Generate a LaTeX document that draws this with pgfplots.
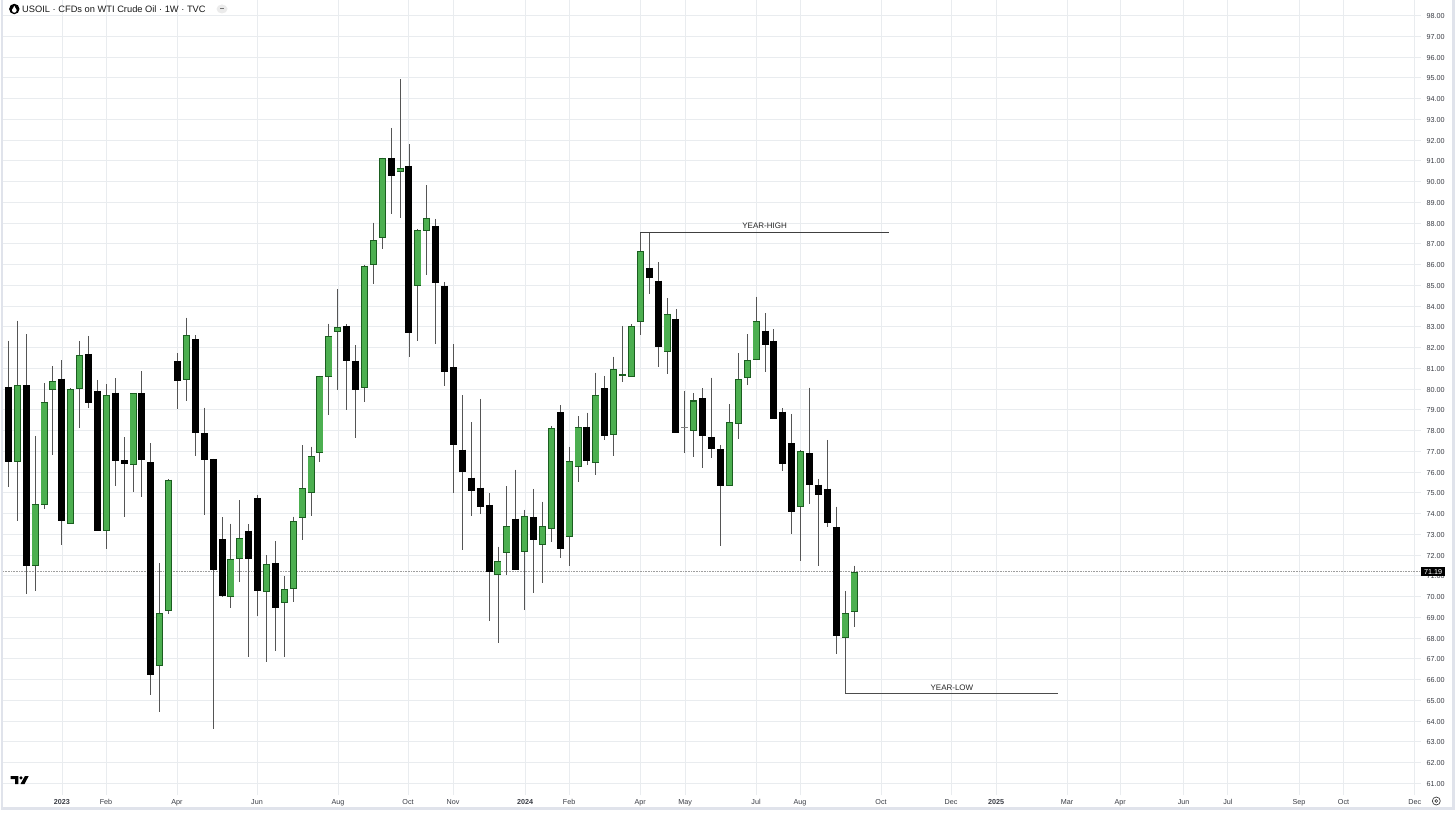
\documentclass[border=0pt]{standalone}
\usepackage{pgfplots}
\pgfplotsset{compat=1.18}
\usepackage{pgfplotstable}
\usepackage{fontspec}
\setmainfont{Liberation Sans}
\definecolor{gridc}{HTML}{E9ECEF}
\definecolor{bullf}{HTML}{4CAF50}
\definecolor{bulle}{HTML}{1B5E20}
\definecolor{wickc}{HTML}{555555}
\definecolor{framec}{HTML}{E0E3EB}
\definecolor{labc}{HTML}{3A3D45}
% i high low
\pgfplotstableread{
i high low
0 82.33 75.30
1 83.30 73.63
2 82.65 70.11
3 77.74 70.27
4 80.28 74.20
5 81.11 76.82
6 81.40 72.50
7 80.03 73.53
8 82.32 78.14
9 82.56 79.07
10 80.44 73.14
11 80.24 72.28
12 80.52 75.35
13 77.67 73.82
14 79.80 75.04
15 80.86 74.82
16 77.39 65.27
17 71.60 64.42
18 75.65 69.18
19 81.72 79.04
20 83.44 79.41
21 82.60 76.78
22 79.10 73.92
23 76.65 63.62
24 73.82 70.00
25 73.51 69.45
26 74.65 70.72
27 73.48 67.10
28 74.90 69.08
29 71.99 66.86
30 72.66 67.39
31 70.99 67.09
32 73.85 69.76
33 77.28 72.74
34 77.22 73.90
35 80.65 76.49
36 83.15 78.74
37 84.82 79.97
38 83.13 78.99
39 82.11 77.65
40 86.00 79.38
41 88.02 85.06
42 91.15 86.76
43 92.59 88.42
44 94.93 88.24
45 91.80 81.56
46 87.72 82.33
47 89.81 85.51
48 88.20 82.15
49 85.16 80.16
50 82.17 74.97
51 79.71 72.24
52 78.39 73.87
53 79.53 73.96
54 74.99 68.83
55 72.41 67.78
56 75.32 71.02
57 76.12 71.27
58 74.18 69.33
59 75.19 70.18
60 74.58 70.65
61 78.20 72.61
62 79.22 71.84
63 77.22 71.45
64 78.70 75.54
65 78.86 76.33
66 80.79 75.88
67 80.63 77.55
68 81.56 76.79
69 83.04 80.33
70 83.12 80.60
71 87.55 82.62
72 87.55 84.57
73 86.11 81.08
74 84.37 80.73
75 83.84 77.90
76 79.91 76.90
77 79.80 76.71
78 80.04 76.18
79 80.55 76.66
80 77.31 72.44
81 79.27 75.33
82 81.72 77.61
83 82.64 80.18
84 84.45 81.43
85 83.65 80.82
86 82.88 78.56
87 79.07 76.05
88 78.80 73.00
89 77.05 71.70
90 80.07 74.46
91 75.67 71.49
92 77.55 73.37
93 74.33 67.22
94 70.27 65.31
95 71.49 68.55
}\wicks
\pgfplotstableread{
i top bot
0 80.12 76.50
2 80.18 71.47
6 80.50 73.63
9 81.69 79.35
10 79.91 73.16
12 79.83 76.53
13 76.57 76.41
15 79.80 76.60
16 76.47 66.22
19 81.35 80.41
21 82.40 77.88
22 77.87 76.60
23 76.63 71.28
24 72.76 70.01
27 73.18 71.83
28 74.75 70.27
30 71.60 69.47
38 83.04 81.34
39 81.37 79.95
43 91.12 90.27
45 90.75 82.72
48 87.87 85.10
49 84.97 80.82
50 81.06 77.28
51 77.08 76.02
52 75.73 75.10
53 75.25 74.33
54 74.42 71.19
57 73.75 71.28
59 73.81 72.74
62 78.88 72.30
65 78.19 76.52
67 80.04 77.76
72 85.84 85.37
73 85.22 82.04
75 83.38 77.90
78 79.55 77.74
79 77.67 77.10
80 77.10 75.33
85 82.82 82.12
86 82.32 78.56
87 78.91 76.39
88 77.39 74.09
90 76.90 75.38
91 75.39 74.90
92 75.20 73.56
93 73.35 68.08
}\bears
\pgfplotstableread{
i top bot
1 80.18 76.50
3 74.45 71.47
4 79.36 74.45
5 80.37 79.99
7 79.97 73.53
8 81.63 80.04
11 79.70 73.19
14 79.80 76.37
17 69.19 66.67
18 75.62 69.32
20 82.59 80.44
25 71.81 70.01
26 72.81 71.83
29 71.57 70.22
31 70.35 69.72
32 73.61 70.38
33 75.19 73.81
34 76.74 75.00
35 80.62 76.95
36 82.56 80.58
37 82.98 82.76
40 85.93 80.05
41 87.15 86.01
42 91.12 87.28
44 90.65 90.49
46 87.65 85.00
47 88.24 87.63
55 71.71 71.08
56 73.37 72.13
58 73.87 72.15
60 73.37 72.52
61 78.09 73.27
63 76.52 72.87
64 78.14 76.26
66 79.71 76.45
68 80.94 77.80
69 80.71 80.65
70 83.01 80.60
71 86.62 83.25
74 83.60 81.80
77 79.43 78.00
81 78.40 75.33
82 80.47 78.35
83 81.40 80.57
84 83.25 81.43
89 76.98 74.33
94 69.19 68.02
95 71.17 69.29
}\bulls
\begin{document}
\begin{tikzpicture}[x=1pt,y=1pt]
\useasboundingbox (0,0) rectangle (1456,812);
\fill[white] (0,0) rectangle (1456,812);
\fill[framec] (0.6,2) rectangle (2.8,812);
\fill[framec] (0.6,2) rectangle (1454.5,4.6);
\fill[framec] (1452,2) rectangle (1454.5,812);
\begin{axis}[
  at={(3pt,17pt)},anchor=south west,
  scale only axis,width=1418pt,height=795pt,
  xmin=-0.607,xmax=158.7,ymin=60.436,ymax=98.75,
  axis line style={draw=none},
  ytick distance=1,
  yticklabel pos=right,
  xtick={6.02,10.97,18.94,27.93,37.03,44.9,49.96,58.04,63,70.97,76.03,84,88.93,98.04,105.9,110.97,118.94,124.9,132.03,137,145,150,158.0},
  xticklabels={\textbf{2023},Feb,Apr,Jun,Aug,Oct,Nov,\textbf{2024},Feb,Apr,May,Jul,Aug,Oct,Dec,\textbf{2025},Mar,Apr,Jun,Jul,Sep,Oct,Dec},
  major tick length=0pt,
  grid=major,
  grid style={gridc,line width=0.9pt},
  tick label style={font=\fontsize{7.2}{8}\selectfont,text=labc},
  xticklabel style={yshift=-1pt},
  yticklabel style={xshift=2pt,yshift=-0.5pt},
  /pgf/number format/.cd,fixed,fixed zerofill,precision=2,assume math mode=true,
  /pgfplots/.cd,
  clip=false,
]
% current price
\addplot[forget plot,line width=1.2pt,dash pattern=on 0.8pt off 0.8pt,color=black!38] coordinates {(-0.607,71.19)(158.7,71.19)};
% wicks
\addplot[draw=none,mark=none,forget plot,
  error bars/.cd,y dir=minus,y explicit,error mark=none,
  error bar style={line width=0.9pt,color=wickc}]
  table[x=i,y=high,y error minus expr=\thisrow{high}-\thisrow{low}] {\wicks};
% level lines
\addplot[forget plot,line width=0.9pt,color=black!75] coordinates {(71,87.55)(98.94,87.55)};
\addplot[forget plot,line width=0.9pt,color=black!70] coordinates {(94,65.31)(117.93,65.31)};
% bodies
\addplot[draw=none,mark=none,forget plot,
  error bars/.cd,y dir=minus,y explicit,error mark=none,
  error bar style={line width=7pt,color=black}]
  table[x=i,y=top,y error minus expr=\thisrow{top}-\thisrow{bot}] {\bears};
\addplot[draw=none,mark=none,forget plot,
  error bars/.cd,y dir=minus,y explicit,error mark=none,
  error bar style={line width=7pt,color=bulle}]
  table[x=i,y expr=\thisrow{top}+0.02,y error minus expr=\thisrow{top}-\thisrow{bot}+0.04] {\bulls};
\addplot[draw=none,mark=none,forget plot,
  error bars/.cd,y dir=minus,y explicit,error mark=none,
  error bar style={line width=5.4pt,color=bullf}]
  table[x=i,y expr=\thisrow{top}-0.03,y error minus expr=\thisrow{top}-\thisrow{bot}-0.06] {\bulls};
\addplot[draw=none,mark=none,forget plot,
  error bars/.cd,y dir=minus,y explicit,error mark=none,
  error bar style={line width=7pt,color=black!50}]
  coordinates {(76,78.16) +- (0,0.05)};
\node[font=\fontsize{8}{9}\selectfont,text=black!85,anchor=base] at (axis cs:84.95,87.72) {YEAR-HIGH};
\node[font=\fontsize{8}{9}\selectfont,text=black!85,anchor=base] at (axis cs:106.0,65.46) {YEAR-LOW};
\node[fill=black,text=white,font=\fontsize{7.2}{8}\selectfont,inner sep=0pt,minimum width=24pt,minimum height=9pt,anchor=west] at (axis cs:158.7,71.19) {71.19};
\end{axis}
% header
\fill[black] (14.3,803) circle (5.2);
\fill[white] (14.3,801.6) circle (2.3);
\fill[white] (14.3,806.3) -- (12.2,802) -- (16.4,802) -- cycle;
\node[anchor=west,inner sep=0pt,font=\fontsize{9.3}{11}\selectfont,text=black!90] at (22,803) {USOIL · CFDs on WTI Crude Oil · 1W · TVC};
\fill[black!8] (222,803) ellipse (5.5 and 4.5);
\fill[black!55] (219.8,802.6) rectangle (224.2,803.6);
% logo
\fill[black] (10.7,36) -- (18.3,36) -- (18.3,28) -- (15,28) -- (15,33) -- (10.7,33) -- cycle;
\fill[black] (21,34.2) circle (1.7);
\fill[black] (25,36) -- (28.7,36) -- (24.5,28) -- (20.5,28) -- cycle;
% gear
\draw[black!75,line width=0.7pt] (1436.3,11) circle (4);
\draw[black!75,line width=0.6pt] (1436.3,11) circle (1.4);
\end{tikzpicture}
\end{document}
